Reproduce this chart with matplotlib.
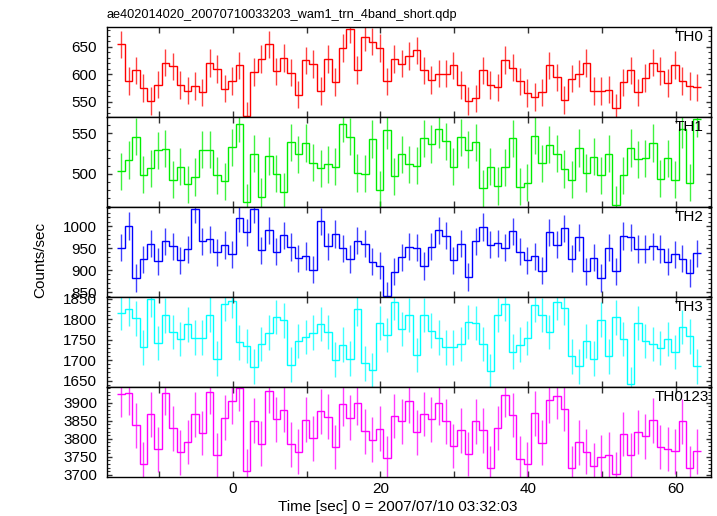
import numpy as np
import matplotlib
matplotlib.use("Agg")
import matplotlib.pyplot as plt
from matplotlib.ticker import MultipleLocator

plt.rcParams['font.family'] = ['Liberation Sans', 'DejaVu Sans']

TITLE = "ae402014020_20070710033203_wam1_trn_4band_short.qdp"
XLABEL = "Time [sec] 0 = 2007/07/10 03:32:03"
YLABEL = "Counts/sec"

TIME_START = -15.6   # left edge of first bin (s)
BIN_WIDTH = 1.0      # s

TH0 = [654, 588, 607, 575, 551, 581, 621, 614, 580, 570,
       579, 567, 620, 609, 574, 588, 616, 525, 604, 628,
       654, 605, 629, 603, 563, 625, 618, 569, 627, 586,
       647, 682, 608, 667, 659, 647, 587, 628, 619, 633,
       643, 607, 589, 601, 601, 616, 580, 551, 556, 607,
       580, 576, 626, 612, 587, 566, 559, 567, 616, 594,
       553, 592, 601, 620, 569, 569, 572, 539, 585, 607,
       567, 593, 621, 606, 584, 617, 588, 579, 576]
TH1 = [503, 517, 546, 499, 507, 529, 531, 493, 509, 487,
       496, 530, 530, 498, 491, 533, 562, 465, 525, 472,
       522, 500, 478, 539, 524, 538, 514, 507, 512, 509,
       562, 546, 501, 500, 543, 480, 554, 497, 524, 512,
       510, 544, 537, 555, 540, 509, 545, 530, 539, 482,
       509, 485, 508, 544, 484, 489, 547, 513, 536, 525,
       506, 493, 532, 501, 521, 498, 525, 462, 498, 532,
       518, 519, 538, 494, 519, 493, 555, 489, 568]
TH2 = [951, 1000, 882, 924, 960, 920, 965, 954, 922, 947,
       1038, 965, 970, 940, 957, 936, 1018, 986, 1038, 945,
       990, 942, 979, 952, 927, 932, 901, 1011, 954, 982,
       949, 925, 967, 960, 919, 910, 842, 896, 929, 953,
       951, 909, 953, 990, 978, 922, 960, 884, 965, 998,
       958, 961, 951, 988, 942, 922, 931, 899, 986, 958,
       995, 926, 974, 897, 928, 882, 951, 897, 977, 974,
       948, 948, 954, 948, 919, 936, 926, 893, 938]
TH3 = [1816, 1824, 1802, 1731, 1848, 1742, 1809, 1769, 1751, 1787,
       1755, 1755, 1811, 1704, 1838, 1845, 1743, 1734, 1684, 1739,
       1767, 1805, 1797, 1689, 1747, 1757, 1767, 1788, 1768, 1701,
       1738, 1704, 1825, 1692, 1676, 1790, 1761, 1841, 1776, 1810,
       1712, 1810, 1772, 1755, 1731, 1731, 1739, 1793, 1790, 1739,
       1674, 1810, 1837, 1721, 1738, 1754, 1834, 1810, 1768, 1841,
       1828, 1709, 1685, 1747, 1704, 1799, 1709, 1804, 1751, 1641,
       1790, 1747, 1739, 1729, 1751, 1720, 1781, 1758, 1685]
TH0123 = [3923, 3928, 3837, 3730, 3868, 3771, 3928, 3829, 3763, 3791,
          3868, 3816, 3930, 3754, 3859, 3904, 3940, 3711, 3850, 3786,
          3933, 3854, 3881, 3785, 3764, 3853, 3801, 3876, 3861, 3777,
          3897, 3858, 3900, 3821, 3798, 3828, 3746, 3863, 3848, 3905,
          3818, 3869, 3854, 3900, 3848, 3780, 3824, 3758, 3848, 3824,
          3719, 3830, 3922, 3866, 3745, 3730, 3871, 3789, 3907, 3918,
          3883, 3719, 3790, 3764, 3725, 3749, 3756, 3702, 3813, 3754,
          3819, 3807, 3851, 3777, 3772, 3765, 3848, 3718, 3765]

NAMES = ["TH0", "TH1", "TH2", "TH3", "TH0123"]
SERIES = [TH0, TH1, TH2, TH3, TH0123]
ERRORS = [25, 23, 31, 42, 62]
YLIMS = [(522, 685), (459, 570), (839, 1043), (1635, 1854), (3695, 3944)]
COLORS = ["#ff0000", "#00ee00", "#0000ff", "#00ffff", "#ff00ff"]
XLIM = (-17.06, 64.77)

W, H = 717, 516
fig = plt.figure(figsize=(W / 100, H / 100), dpi=100)
left = 106.7 / W
width = (711 - 106.7) / W
top0 = 27.3
ph = 89.88

label_x = [674.5, 674.5, 674.5, 674.5, 654.3]

for i, (name, vals, err, ylim, c) in enumerate(zip(NAMES, SERIES, ERRORS, YLIMS, COLORS)):
    vals = np.asarray(vals, dtype=float)
    n = len(vals)
    edges = TIME_START + BIN_WIDTH * np.arange(n + 1)
    centers = 0.5 * (edges[:-1] + edges[1:])
    bottom = 1 - (top0 + ph * (i + 1)) / H
    ax = fig.add_axes([left, bottom, width, ph / H])
    ax.errorbar(centers, vals, yerr=err, fmt='none', ecolor=c, elinewidth=1.0,
                capsize=0, alpha=0.75)
    ax.stairs(vals, edges, color=c, lw=1.0, baseline=None)
    ax.set_xlim(*XLIM)
    ax.set_ylim(*ylim)
    ax.yaxis.set_major_locator(MultipleLocator(50))
    ax.yaxis.set_minor_locator(MultipleLocator(10))
    ax.xaxis.set_major_locator(MultipleLocator(20))
    ax.xaxis.set_minor_locator(MultipleLocator(10))
    ax.tick_params(which='both', direction='in', top=True, right=True,
                   labelsize=11, color='#333333')
    ax.tick_params(axis='y', which='major', length=3.8, width=1, pad=7)
    ax.tick_params(axis='y', which='minor', length=2, width=0.8)
    ax.tick_params(axis='x', which='both', length=4.5, width=1, pad=4)
    ax.tick_params(axis='x', labelbottom=(i == 4))
    for s in ax.spines.values():
        s.set_linewidth(1.0)
        s.set_color('black')
    ax.text((label_x[i] - 106.7) / 604.3, 0.889, name, transform=ax.transAxes,
            ha='left', va='center', fontsize=11)
    if i == 0:
        ax.text(0.0, 1.0 + 6 / ph, TITLE, transform=ax.transAxes, ha='left',
                va='bottom', fontsize=9.2)

fig.text(398 / W, 1 - 507 / H, XLABEL, ha='center', va='center', fontsize=11)
fig.text(40 / W, 1 - 260 / H, YLABEL, ha='center', va='center', fontsize=11,
         rotation=90)

fig.savefig("out.png", dpi=100)
